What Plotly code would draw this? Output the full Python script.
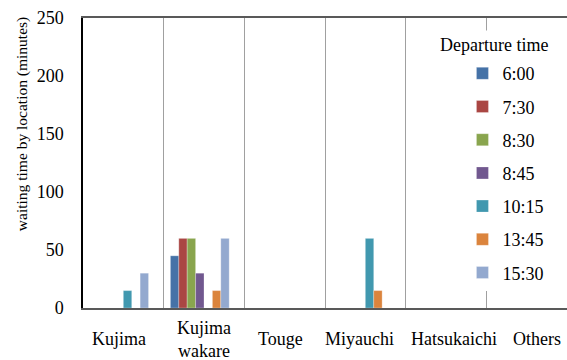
import plotly.graph_objects as go

# Waiting time (minutes) at each location, by departure time
locations = ["Kujima", "Kujima wakare", "Touge", "Miyauchi", "Hatsukaichi", "Others"]
location_labels = ["Kujima", "Kujima<br>wakare", "Touge", "Miyauchi", "Hatsukaichi", "Others"]
label_shift = [-4, 0, -4, -6, 8, 10]

departures = ["6:00", "7:30", "8:30", "8:45", "10:15", "13:45", "15:30"]
wait_600 = [None, 45, None, None, None, None]
wait_730 = [None, 60, None, None, None, None]
wait_830 = [None, 60, None, None, None, None]
wait_845 = [None, 30, None, None, None, None]
wait_1015 = [15, None, None, 60, None, None]
wait_1345 = [None, 15, None, 15, None, None]
wait_1530 = [30, 60, None, None, None, None]
series = [wait_600, wait_730, wait_830, wait_845, wait_1015, wait_1345, wait_1530]

colors = ["#4572A7", "#AA4643", "#89A54E", "#71588F", "#4198AF", "#DB843D", "#93A9CF"]

y_ticks = [0, 50, 100, 150, 200, 250]

FONT = "'Times New Roman', 'Liberation Serif', serif"

fig = go.Figure()
for i, (name, vals, col) in enumerate(zip(departures, series, colors)):
    fig.add_trace(go.Bar(
        x=locations, y=vals, name=name,
        marker=dict(color=col, line=dict(color="rgba(255,255,255,0.45)", width=0.6)),
        legendgroup=name,
    ))
# empty eighth series slot (kept out of the legend)
fig.add_trace(go.Bar(x=locations, y=[None] * len(locations), name="",
                     showlegend=False, hoverinfo="skip", legendgroup="pad"))

annotations = []
for loc, lab, dx in zip(locations, location_labels, label_shift):
    annotations.append(dict(
        x=loc, xref="x", y=-0.108, yref="paper", text=lab, showarrow=False,
        xanchor="center", yanchor="middle", xshift=dx,
        font=dict(family=FONT, size=18, color="#000000"),
    ))
annotations.append(dict(
    x=-0.126, xref="paper", y=0.634, yref="paper",
    text="waiting time by location (minutes)", textangle=-90, showarrow=False,
    xanchor="center", yanchor="middle",
    font=dict(family=FONT, size=15.5, color="#000000"),
))
annotations.append(dict(
    x=0.850, xref="paper", y=0.907, yref="paper", text="Departure time",
    showarrow=False, xanchor="center", yanchor="middle",
    bgcolor="#FFFFFF", borderpad=4,
    font=dict(family=FONT, size=18, color="#000000"),
))

fig.update_layout(
    width=567, height=360,
    margin=dict(l=83, r=0, t=18, b=52),
    paper_bgcolor="#FFFFFF", plot_bgcolor="#FFFFFF",
    barmode="group", bargap=0.167, bargroupgap=0,
    font=dict(family=FONT, size=18, color="#000000"),
    showlegend=True,
    legend=dict(
        x=0.784, xanchor="left", y=0.872, yanchor="top",
        bgcolor="#FFFFFF", borderwidth=0,
        font=dict(family=FONT, size=18, color="#000000"),
        tracegroupgap=6.8, traceorder="grouped",
    ),
    annotations=annotations,
)
fig.update_xaxes(
    type="category", range=[-0.5, 5.5],
    showticklabels=False, ticks="",
    tickson="boundaries", showgrid=True, gridcolor="#A0A0A0", gridwidth=1,
    showline=True, linecolor="#595959", linewidth=2, mirror=True,
    zeroline=False,
)
fig.update_yaxes(
    range=[0, 250], tickvals=y_ticks, ticks="",
    ticklabelstandoff=14,
    tickfont=dict(family=FONT, size=18, color="#000000"),
    showgrid=False, zeroline=False,
    showline=True, linecolor="#000000", linewidth=1.5,
)

fig.write_html("out.html")
